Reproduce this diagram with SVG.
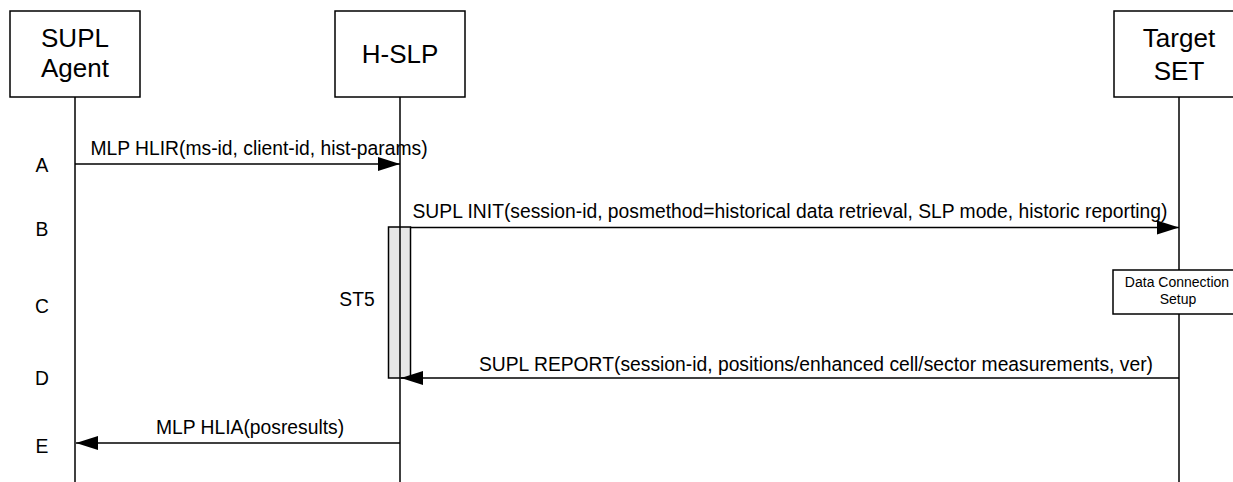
<svg xmlns="http://www.w3.org/2000/svg" width="1233" height="482" viewBox="0 0 1233 482">
<style>
.box{fill:#fff;stroke:#000;stroke-width:1.5}
.life{stroke:#000;stroke-width:1.5;fill:none}
.msg{stroke:#000;stroke-width:1.5;fill:none}
.ent{font-family:"Liberation Sans",Arial,sans-serif;font-size:26px;text-anchor:middle;fill:#000}
.lbl{font-family:"Liberation Sans",Arial,sans-serif;font-size:19.3px;fill:#000}
.mid{text-anchor:middle}
.small{font-family:"Liberation Sans",Arial,sans-serif;font-size:14px;text-anchor:middle;fill:#000}
</style>
<defs>
<marker id="ah" markerWidth="22" markerHeight="14" refX="22" refY="7" orient="auto" markerUnits="userSpaceOnUse"><path d="M0,0 L22,7 L0,14 z" fill="#000"/></marker>
</defs>
<rect width="1233" height="482" fill="#fff"/>
<g id="agent">
<rect class="box" x="10" y="11" width="130" height="86"/>
<text class="ent" x="75" y="47">SUPL</text>
<text class="ent" x="75" y="77">Agent</text>
<line class="life" x1="75" y1="97" x2="75" y2="482"/>
</g>
<g id="hslp">
<rect class="box" x="335" y="11" width="130" height="86"/>
<text class="ent" x="400" y="63">H-SLP</text>
<rect id="st5" x="388.5" y="227" width="22" height="151" fill="#e6e6e6" stroke="#000" stroke-width="1.5"/>
<line class="life" x1="400" y1="97" x2="400" y2="482"/>
<text class="lbl mid" x="357" y="306">ST5</text>
</g>
<g id="target">
<rect class="box" x="1114" y="11" width="132" height="86"/>
<text class="ent" x="1179" y="47">Target</text>
<text class="ent" x="1179" y="80">SET</text>
<line class="life" x1="1179" y1="97" x2="1179" y2="482"/>
<g id="dcs">
<rect class="box" x="1113" y="270" width="132" height="44"/>
<text class="small" x="1177" y="287">Data Connection</text>
<text class="small" x="1178" y="304">Setup</text>
</g>
</g>
<g id="steps">
<text class="lbl mid" x="42" y="172">A</text>
<text class="lbl mid" x="42" y="236">B</text>
<text class="lbl mid" x="42" y="313">C</text>
<text class="lbl mid" x="42" y="385">D</text>
<text class="lbl mid" x="42" y="453">E</text>
</g>
<g id="connectors">
<line class="msg" x1="75" y1="164" x2="400" y2="164" marker-end="url(#ah)"/>
<text class="lbl mid" x="259" y="155">MLP HLIR(ms-id, client-id, hist-params)</text>
<line class="msg" x1="410" y1="227.5" x2="1179" y2="227.5" marker-end="url(#ah)"/>
<text class="lbl mid" x="790" y="218">SUPL INIT(session-id, posmethod=historical data retrieval, SLP mode, historic reporting)</text>
<line class="msg" x1="1179" y1="378" x2="401" y2="378" marker-end="url(#ah)"/>
<text class="lbl mid" x="816" y="371">SUPL REPORT(session-id, positions/enhanced cell/sector measurements, ver)</text>
<line class="msg" x1="400" y1="443" x2="76" y2="443" marker-end="url(#ah)"/>
<text class="lbl mid" x="250" y="434">MLP HLIA(posresults)</text>
</g>
</svg>
